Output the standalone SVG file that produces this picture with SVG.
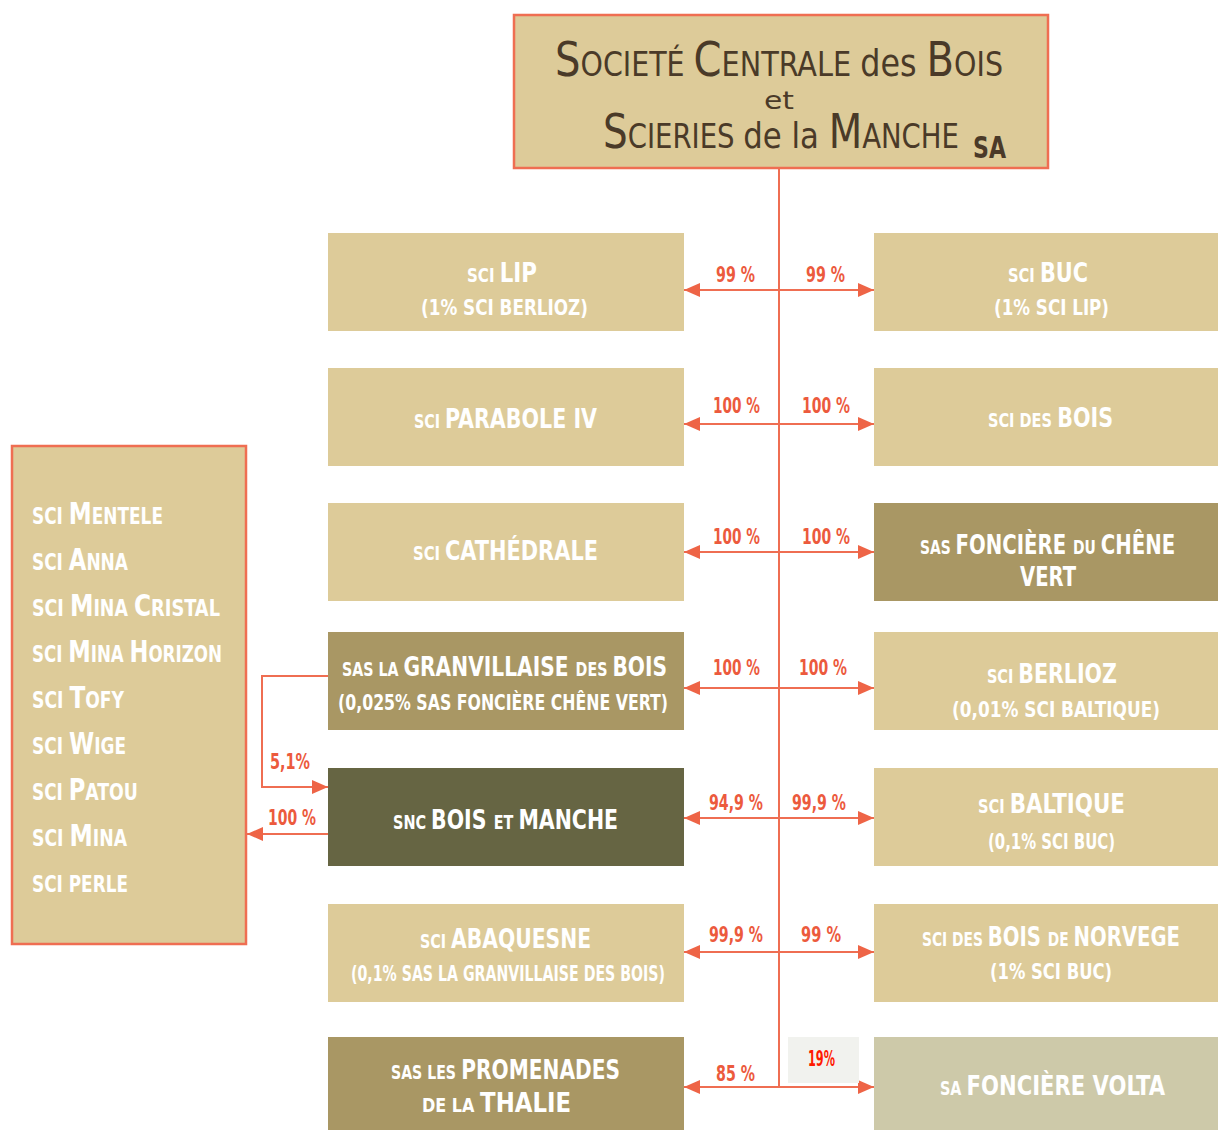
<svg xmlns="http://www.w3.org/2000/svg" width="1218" height="1130" viewBox="0 0 1218 1130">
<defs>
<marker id="ah" viewBox="0 0 16 14" refX="16" refY="7" markerWidth="16" markerHeight="14" orient="auto" markerUnits="userSpaceOnUse"><path d="M0,0 L16,7 L0,14 z" fill="#ee6446"/></marker>
<style>
text{font-family:"DejaVu Sans Condensed","DejaVu Sans",sans-serif}
.t{font-weight:bold;fill:#ffffff}
.lg{font-size:27px}
.sm{font-size:19px}
.pr{font-size:22px}
.lb{font-weight:bold;font-size:22px;fill:#ec5a3d}
.hd{fill:#4a3a28}
.h1{font-size:48px}
.h2{font-size:34px}
.h3{font-size:38px}
.lt{fill:#ddcb99}
.md{fill:#a99764}
.dk{fill:#666543}
.pl{fill:#cdc9a9}
.cn{stroke:#ef6e52;stroke-width:2;fill:none}
.lbx{font-size:23px}
.lbg{font-size:31px}
</style>
</defs>
<rect width="1218" height="1130" fill="#ffffff"/>

<g id="top">
<rect x="514" y="15" width="534" height="153" fill="#ddcb99" stroke="#ef6e52" stroke-width="2.5"/>
<text class="hd h1" transform="translate(555 76) scale(0.8 1)" textLength="31.875" lengthAdjust="spacingAndGlyphs">S</text>
<text class="hd h2" transform="translate(580.5 76) scale(0.8 1)" textLength="130" lengthAdjust="spacingAndGlyphs">OCIETÉ</text>
<text class="hd h1" transform="translate(693.5 76) scale(0.8 1)" textLength="35" lengthAdjust="spacingAndGlyphs">C</text>
<text class="hd h2" transform="translate(721.5 76) scale(0.8 1)" textLength="162.125" lengthAdjust="spacingAndGlyphs">ENTRALE</text>
<text class="hd h3" transform="translate(860.2 76) scale(0.8 1)" textLength="70.375" lengthAdjust="spacingAndGlyphs">des</text>
<text class="hd h1" transform="translate(926.6 76) scale(0.8 1)" textLength="34.375" lengthAdjust="spacingAndGlyphs">B</text>
<text class="hd h2" transform="translate(954.1 76) scale(0.8 1)" textLength="61.125" lengthAdjust="spacingAndGlyphs">OIS</text>
<text class="hd" x="764" y="109" font-size="25" textLength="30" lengthAdjust="spacingAndGlyphs">et</text>
<text class="hd h1" transform="translate(603 148) scale(0.8 1)" textLength="30.875" lengthAdjust="spacingAndGlyphs">S</text>
<text class="hd h2" transform="translate(627.7 148) scale(0.8 1)" textLength="133.625" lengthAdjust="spacingAndGlyphs">CIERIES</text>
<text class="hd" font-size="35" transform="translate(743.3 148) scale(0.8 1)" textLength="94.5" lengthAdjust="spacingAndGlyphs">de la</text>
<text class="hd h1" transform="translate(828.7 148) scale(0.8 1)" textLength="41.875" lengthAdjust="spacingAndGlyphs">M</text>
<text class="hd h2" transform="translate(862.2 148) scale(0.8 1)" textLength="120.875" lengthAdjust="spacingAndGlyphs">ANCHE</text>
<text class="hd" transform="translate(973 158) scale(0.8 1)" font-size="30" font-weight="bold" textLength="41.25" lengthAdjust="spacingAndGlyphs">SA</text>
</g>

<g id="left-group">
<rect x="12" y="446" width="234" height="498" fill="#ddcb99" stroke="#ef6e52" stroke-width="2.5"/>
<text class="t lbx" transform="translate(32 524) scale(0.75 1)" textLength="41.2" lengthAdjust="spacingAndGlyphs">SCI</text>
<text class="t lbg" transform="translate(68.8 524) scale(0.75 1)" textLength="30.53" lengthAdjust="spacingAndGlyphs">M</text>
<text class="t lbx" transform="translate(91.7 524) scale(0.75 1)" textLength="95.07" lengthAdjust="spacingAndGlyphs">ENTELE</text>

<text class="t lbx" transform="translate(32 570) scale(0.75 1)" textLength="41.2" lengthAdjust="spacingAndGlyphs">SCI</text>
<text class="t lbg" transform="translate(68.8 570) scale(0.75 1)" textLength="23.47" lengthAdjust="spacingAndGlyphs">A</text>
<text class="t lbx" transform="translate(86.4 570) scale(0.75 1)" textLength="55.47" lengthAdjust="spacingAndGlyphs">NNA</text>

<text class="t lbx" transform="translate(32 616) scale(0.75 1)" textLength="42.4" lengthAdjust="spacingAndGlyphs">SCI</text>
<text class="t lbg" transform="translate(69.9 616) scale(0.75 1)" textLength="31.33" lengthAdjust="spacingAndGlyphs">M</text>
<text class="t lbx" transform="translate(93.4 616) scale(0.75 1)" textLength="46" lengthAdjust="spacingAndGlyphs">INA</text>
<text class="t lbg" transform="translate(134 616) scale(0.75 1)" textLength="22.8" lengthAdjust="spacingAndGlyphs">C</text>
<text class="t lbx" transform="translate(151.1 616) scale(0.75 1)" textLength="91.87" lengthAdjust="spacingAndGlyphs">RISTAL</text>

<text class="t lbx" transform="translate(32 662) scale(0.75 1)" textLength="40.53" lengthAdjust="spacingAndGlyphs">SCI</text>
<text class="t lbg" transform="translate(68.2 662) scale(0.75 1)" textLength="30" lengthAdjust="spacingAndGlyphs">M</text>
<text class="t lbx" transform="translate(90.7 662) scale(0.75 1)" textLength="44" lengthAdjust="spacingAndGlyphs">INA</text>
<text class="t lbg" transform="translate(129.5 662) scale(0.75 1)" textLength="25.2" lengthAdjust="spacingAndGlyphs">H</text>
<text class="t lbx" transform="translate(148.4 662) scale(0.75 1)" textLength="98.13" lengthAdjust="spacingAndGlyphs">ORIZON</text>

<text class="t lbx" transform="translate(32 708) scale(0.75 1)" textLength="41.87" lengthAdjust="spacingAndGlyphs">SCI</text>
<text class="t lbg" transform="translate(69.4 708) scale(0.75 1)" textLength="21.07" lengthAdjust="spacingAndGlyphs">T</text>
<text class="t lbx" transform="translate(85.2 708) scale(0.75 1)" textLength="51.73" lengthAdjust="spacingAndGlyphs">OFY</text>

<text class="t lbx" transform="translate(32 754) scale(0.75 1)" textLength="41.33" lengthAdjust="spacingAndGlyphs">SCI</text>
<text class="t lbg" transform="translate(69 754) scale(0.75 1)" textLength="33.6" lengthAdjust="spacingAndGlyphs">W</text>
<text class="t lbx" transform="translate(94.2 754) scale(0.75 1)" textLength="42.4" lengthAdjust="spacingAndGlyphs">IGE</text>

<text class="t lbx" transform="translate(32 800) scale(0.75 1)" textLength="41.07" lengthAdjust="spacingAndGlyphs">SCI</text>
<text class="t lbg" transform="translate(68.7 800) scale(0.75 1)" textLength="22.13" lengthAdjust="spacingAndGlyphs">P</text>
<text class="t lbx" transform="translate(85.3 800) scale(0.75 1)" textLength="70.13" lengthAdjust="spacingAndGlyphs">ATOU</text>

<text class="t lbx" transform="translate(32 846) scale(0.75 1)" textLength="42" lengthAdjust="spacingAndGlyphs">SCI</text>
<text class="t lbg" transform="translate(69.5 846) scale(0.75 1)" textLength="31.07" lengthAdjust="spacingAndGlyphs">M</text>
<text class="t lbx" transform="translate(92.8 846) scale(0.75 1)" textLength="45.6" lengthAdjust="spacingAndGlyphs">INA</text>

<text class="t lbx" transform="translate(32 892) scale(0.75 1)" textLength="128" lengthAdjust="spacingAndGlyphs">SCI PERLE</text>
</g>

<g id="sci-lip">
<rect class="lt" x="328" y="233" width="356" height="98"/>
<text class="t sm" transform="translate(467 282) scale(0.75 1)" textLength="36.67" lengthAdjust="spacingAndGlyphs">SCI</text>
<text class="t lg" transform="translate(499.7 282) scale(0.75 1)" textLength="49.73" lengthAdjust="spacingAndGlyphs">LIP</text>
<text class="t pr" x="421" y="315" textLength="167" lengthAdjust="spacingAndGlyphs">(1% SCI BERLIOZ)</text>
</g>
<g id="sci-buc">
<rect class="lt" x="874" y="233" width="344" height="98"/>
<text class="t sm" transform="translate(1008 282) scale(0.75 1)" textLength="35.73" lengthAdjust="spacingAndGlyphs">SCI</text>
<text class="t lg" transform="translate(1039.9 282) scale(0.75 1)" textLength="64.13" lengthAdjust="spacingAndGlyphs">BUC</text>
<text class="t pr" x="994" y="315" textLength="115" lengthAdjust="spacingAndGlyphs">(1% SCI LIP)</text>
</g>

<g id="sci-parabole">
<rect class="lt" x="328" y="368" width="356" height="98"/>
<text class="t sm" transform="translate(414 428) scale(0.75 1)" textLength="34.67" lengthAdjust="spacingAndGlyphs">SCI</text>
<text class="t lg" transform="translate(445 428) scale(0.75 1)" textLength="202.67" lengthAdjust="spacingAndGlyphs">PARABOLE IV</text>
</g>
<g id="sci-des-bois">
<rect class="lt" x="874" y="368" width="344" height="98"/>
<text class="t sm" transform="translate(988 427) scale(0.75 1)" textLength="85.33" lengthAdjust="spacingAndGlyphs">SCI DES</text>
<text class="t lg" transform="translate(1057.2 427) scale(0.75 1)" textLength="74.4" lengthAdjust="spacingAndGlyphs">BOIS</text>
</g>

<g id="sci-cathedrale">
<rect class="lt" x="328" y="503" width="356" height="98"/>
<text class="t sm" transform="translate(413 560) scale(0.75 1)" textLength="36" lengthAdjust="spacingAndGlyphs">SCI</text>
<text class="t lg" transform="translate(445 560) scale(0.75 1)" textLength="204" lengthAdjust="spacingAndGlyphs">CATHÉDRALE</text>
</g>
<g id="sas-fonciere-chene-vert">
<rect class="md" x="874" y="503" width="344" height="98"/>
<text class="t sm" transform="translate(920 554) scale(0.75 1)" textLength="40.93" lengthAdjust="spacingAndGlyphs">SAS</text>
<text class="t lg" transform="translate(955.6 554) scale(0.75 1)" textLength="147.33" lengthAdjust="spacingAndGlyphs">FONCIÈRE</text>
<text class="t sm" transform="translate(1073 554) scale(0.75 1)" textLength="30.4" lengthAdjust="spacingAndGlyphs">DU</text>
<text class="t lg" transform="translate(1100.7 554) scale(0.75 1)" textLength="99.2" lengthAdjust="spacingAndGlyphs">CHÊNE</text>
<text class="t lg" x="1020" y="586" textLength="56" lengthAdjust="spacingAndGlyphs">VERT</text>
</g>

<g id="sas-granvillaise">
<rect class="md" x="328" y="632" width="356" height="98"/>
<text class="t sm" transform="translate(342 676) scale(0.75 1)" textLength="75.33" lengthAdjust="spacingAndGlyphs">SAS LA</text>
<text class="t lg" transform="translate(403.5 676) scale(0.75 1)" textLength="220" lengthAdjust="spacingAndGlyphs">GRANVILLAISE</text>
<text class="t sm" transform="translate(575.6 676) scale(0.75 1)" textLength="42.4" lengthAdjust="spacingAndGlyphs">DES</text>
<text class="t lg" transform="translate(612.4 676) scale(0.75 1)" textLength="72.8" lengthAdjust="spacingAndGlyphs">BOIS</text>
<text class="t pr" x="338" y="710" textLength="330" lengthAdjust="spacingAndGlyphs">(0,025% SAS FONCIÈRE CHÊNE VERT)</text>
</g>
<g id="sci-berlioz">
<rect class="lt" x="874" y="632" width="344" height="98"/>
<text class="t sm" transform="translate(987 683) scale(0.75 1)" textLength="35.07" lengthAdjust="spacingAndGlyphs">SCI</text>
<text class="t lg" transform="translate(1018.3 683) scale(0.75 1)" textLength="131.6" lengthAdjust="spacingAndGlyphs">BERLIOZ</text>
<text class="t pr" x="952" y="717" textLength="208" lengthAdjust="spacingAndGlyphs">(0,01% SCI BALTIQUE)</text>
</g>

<g id="snc-bois-et-manche">
<rect class="dk" x="328" y="768" width="356" height="98"/>
<text class="t sm" transform="translate(393 829) scale(0.75 1)" textLength="44.13" lengthAdjust="spacingAndGlyphs">SNC</text>
<text class="t lg" transform="translate(431.1 829) scale(0.75 1)" textLength="73.87" lengthAdjust="spacingAndGlyphs">BOIS</text>
<text class="t sm" transform="translate(493.7 829) scale(0.75 1)" textLength="26.13" lengthAdjust="spacingAndGlyphs">ET</text>
<text class="t lg" transform="translate(518.4 829) scale(0.75 1)" textLength="132.93" lengthAdjust="spacingAndGlyphs">MANCHE</text>
</g>
<g id="sci-baltique">
<rect class="lt" x="874" y="768" width="344" height="98"/>
<text class="t sm" transform="translate(978 813) scale(0.75 1)" textLength="35.47" lengthAdjust="spacingAndGlyphs">SCI</text>
<text class="t lg" transform="translate(1009.7 813) scale(0.75 1)" textLength="153.73" lengthAdjust="spacingAndGlyphs">BALTIQUE</text>
<text class="t pr" x="988" y="849" textLength="127" lengthAdjust="spacingAndGlyphs">(0,1%  SCI BUC)</text>
</g>

<g id="sci-abaquesne">
<rect class="lt" x="328" y="904" width="356" height="98"/>
<text class="t sm" transform="translate(420 948) scale(0.75 1)" textLength="34.67" lengthAdjust="spacingAndGlyphs">SCI</text>
<text class="t lg" transform="translate(451 948) scale(0.75 1)" textLength="186.67" lengthAdjust="spacingAndGlyphs">ABAQUESNE</text>
<text class="t pr" x="351" y="981" textLength="314" lengthAdjust="spacingAndGlyphs" font-weight="normal">(0,1% SAS LA GRANVILLAISE DES BOIS)</text>
</g>
<g id="sci-bois-norvege">
<rect class="lt" x="874" y="904" width="344" height="98"/>
<text class="t sm" transform="translate(922 946) scale(0.75 1)" textLength="81.2" lengthAdjust="spacingAndGlyphs">SCI DES</text>
<text class="t lg" transform="translate(987.75 946) scale(0.75 1)" textLength="70.8" lengthAdjust="spacingAndGlyphs">BOIS</text>
<text class="t sm" transform="translate(1047.75 946) scale(0.75 1)" textLength="27.87" lengthAdjust="spacingAndGlyphs">DE</text>
<text class="t lg" transform="translate(1073.5 946) scale(0.75 1)" textLength="142" lengthAdjust="spacingAndGlyphs">NORVEGE</text>
<text class="t pr" x="990" y="979" textLength="122" lengthAdjust="spacingAndGlyphs">(1% SCI BUC)</text>
</g>

<g id="sas-promenades">
<rect class="md" x="328" y="1037" width="356" height="93"/>
<text class="t sm" transform="translate(391 1079) scale(0.75 1)" textLength="86.67" lengthAdjust="spacingAndGlyphs">SAS LES</text>
<text class="t lg" transform="translate(461.3 1079) scale(0.75 1)" textLength="211.6" lengthAdjust="spacingAndGlyphs">PROMENADES</text>
<text class="t sm" transform="translate(422 1112) scale(0.75 1)" textLength="70" lengthAdjust="spacingAndGlyphs">DE LA</text>
<text class="t lg" transform="translate(480.1 1112) scale(0.75 1)" textLength="121.2" lengthAdjust="spacingAndGlyphs">THALIE</text>
</g>
<g id="sa-fonciere-volta">
<rect class="pl" x="874" y="1037" width="344" height="93"/>
<text class="t sm" transform="translate(940 1095) scale(0.75 1)" textLength="28.67" lengthAdjust="spacingAndGlyphs">SA</text>
<text class="t lg" transform="translate(966.6 1095) scale(0.75 1)" textLength="264.53" lengthAdjust="spacingAndGlyphs">FONCIÈRE VOLTA</text>
</g>

<g id="connectors">
<line class="cn" x1="779" y1="168" x2="779" y2="1088"/>
<line class="cn" x1="779" y1="290" x2="684" y2="290" marker-end="url(#ah)"/>
<line class="cn" x1="779" y1="290" x2="874" y2="290" marker-end="url(#ah)"/>
<line class="cn" x1="779" y1="424" x2="684" y2="424" marker-end="url(#ah)"/>
<line class="cn" x1="779" y1="424" x2="874" y2="424" marker-end="url(#ah)"/>
<line class="cn" x1="779" y1="552" x2="684" y2="552" marker-end="url(#ah)"/>
<line class="cn" x1="779" y1="552" x2="874" y2="552" marker-end="url(#ah)"/>
<line class="cn" x1="779" y1="688" x2="684" y2="688" marker-end="url(#ah)"/>
<line class="cn" x1="779" y1="688" x2="874" y2="688" marker-end="url(#ah)"/>
<line class="cn" x1="779" y1="818" x2="684" y2="818" marker-end="url(#ah)"/>
<line class="cn" x1="779" y1="818" x2="874" y2="818" marker-end="url(#ah)"/>
<line class="cn" x1="779" y1="952" x2="684" y2="952" marker-end="url(#ah)"/>
<line class="cn" x1="779" y1="952" x2="874" y2="952" marker-end="url(#ah)"/>
<line class="cn" x1="779" y1="1087" x2="684" y2="1087" marker-end="url(#ah)"/>
<line class="cn" x1="779" y1="1087" x2="874" y2="1087" marker-end="url(#ah)"/>
<path class="cn" d="M328,676 H262 V787 H328" marker-end="url(#ah)"/>
<path class="cn" d="M328,834 H247" marker-end="url(#ah)"/>
<rect x="788" y="1037" width="71" height="46" fill="#f1f2ee"/>
<text class="lb" x="716" y="282" textLength="39" lengthAdjust="spacingAndGlyphs">99 %</text>
<text class="lb" x="806" y="282" textLength="39" lengthAdjust="spacingAndGlyphs">99 %</text>
<text class="lb" x="713" y="413" textLength="47" lengthAdjust="spacingAndGlyphs">100 %</text>
<text class="lb" x="802" y="413" textLength="48" lengthAdjust="spacingAndGlyphs">100 %</text>
<text class="lb" x="713" y="544" textLength="47" lengthAdjust="spacingAndGlyphs">100 %</text>
<text class="lb" x="802" y="544" textLength="48" lengthAdjust="spacingAndGlyphs">100 %</text>
<text class="lb" x="713" y="675" textLength="47" lengthAdjust="spacingAndGlyphs">100 %</text>
<text class="lb" x="799" y="675" textLength="48" lengthAdjust="spacingAndGlyphs">100 %</text>
<text class="lb" x="709" y="810" textLength="54" lengthAdjust="spacingAndGlyphs">94,9 %</text>
<text class="lb" x="792" y="810" textLength="54" lengthAdjust="spacingAndGlyphs">99,9 %</text>
<text class="lb" x="709" y="942" textLength="54" lengthAdjust="spacingAndGlyphs">99,9 %</text>
<text class="lb" x="801" y="942" textLength="40" lengthAdjust="spacingAndGlyphs">99 %</text>
<text class="lb" x="716" y="1081" textLength="39" lengthAdjust="spacingAndGlyphs">85 %</text>
<text class="lb" x="808" y="1066" font-size="18" textLength="27" lengthAdjust="spacingAndGlyphs" style="fill:#ff1a00">19%</text>
<text class="lb" x="270" y="769" textLength="40" lengthAdjust="spacingAndGlyphs">5,1%</text>
<text class="lb" x="268" y="825" textLength="48" lengthAdjust="spacingAndGlyphs">100 %</text>
</g>
</svg>
